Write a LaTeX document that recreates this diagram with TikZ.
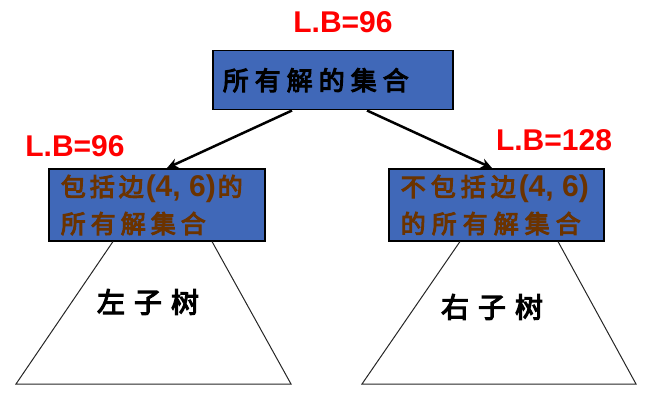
\documentclass[tikz,border=0pt]{standalone}
\usepackage{fontspec}
\usetikzlibrary{calc,arrows.meta}
\newfontfamily\cjk[FakeBold=4]{Noto Sans CJK SC}
\newfontfamily\lat{Liberation Sans}
\definecolor{boxblue}{HTML}{4068B8}
\definecolor{txtbrown}{HTML}{6B3300}
\newcommand\sk[1]{\kern#1pt\relax}
\begin{document}
\begin{tikzpicture}[x=1pt,y=-1pt,
  box/.style={draw=black, line width=1.5pt, fill=boxblue, anchor=north west, align=left},
  lb/.style={text=red, font=\lat\bfseries\fontsize{30}{30}\selectfont, inner sep=0pt},
  arr/.style={line width=2.5pt, -{Stealth[length=11pt,width=10pt]}},
  trap/.style={draw=black!85, line width=1pt},
  treetxt/.style={font=\cjk\fontsize{28}{30}\selectfont, inner sep=0pt}
]
\useasboundingbox (0,0) rectangle (661,409);
% boxes
\node[box, minimum width=240pt, minimum height=59pt, text width=220pt, inner xsep=10pt, inner ysep=0pt,
      font=\cjk\fontsize{26}{30}\selectfont] (top) at (212,50)
  {\mbox{所\sk{6}有\sk{6}解\sk{6}的\sk{6}集\sk{6}合}};
\node[box, minimum width=216pt, minimum height=72pt, text width=192pt, inner xsep=12pt, inner ysep=0pt,
      text=txtbrown, font=\cjk\fontsize{25}{37}\selectfont] (lbox) at (48,168)
  {\mbox{包\sk{4}括\sk{4}边\sk{2}{\lat\bfseries\fontsize{30}{37}\selectfont(4, 6)}\sk{2}的}\\\mbox{所\sk{5}有\sk{5}解\sk{5}集\sk{5}合}};
\node[box, minimum width=215pt, minimum height=72pt, text width=191pt, inner xsep=12pt, inner ysep=0pt,
      text=txtbrown, font=\cjk\fontsize{25}{37}\selectfont] (rbox) at (388,168)
  {\mbox{不\sk{5}包\sk{5}括\sk{5}边\sk{3}{\lat\bfseries\fontsize{30}{37}\selectfont(4, 6)}}\\\mbox{的\sk{6}所\sk{6}有\sk{6}解\sk{6}集\sk{6}合}};
% subtrees
\draw[trap] ($(lbox.south west)+(65,0)$) -- (16,384) -- (291,384) -- ($(lbox.south west)+(164,0)$);
\draw[trap] ($(rbox.south west)+(72,0)$) -- (362,384) -- (636,384) -- ($(rbox.south west)+(170,0)$);
\node[treetxt] (ltree) at (148,302) {左\sk{9}子\sk{9}树};
\node[treetxt] (rtree) at (492,307) {右\sk{9}子\sk{9}树};
% arrows
\draw[arr] ($(top.south west)+(80,0)$) -- ($(lbox.north west)+(119,0)$);
\draw[arr] ($(top.south west)+(155,0)$) -- ($(rbox.north west)+(104,0)$);
% bounds
\node[lb] (lbtop) at (343,22) {L.B=96};
\node[lb] (lbl) at (75,146) {L.B=96};
\node[lb] (lbr) at (554,140) {L.B=128};
\end{tikzpicture}
\end{document}
